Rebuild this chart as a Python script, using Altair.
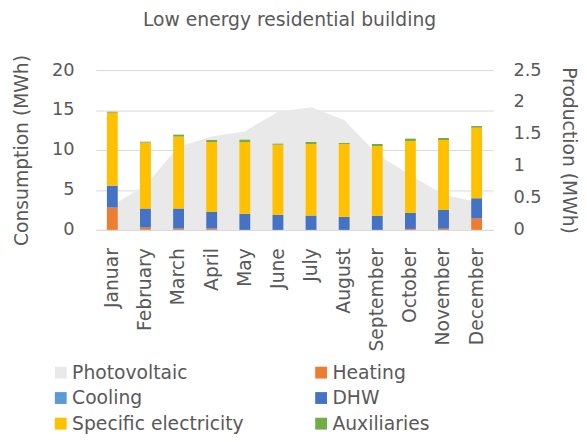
import altair as alt
import pandas as pd

months = ["Januar", "February", "March", "April", "May", "June", "July",
          "August", "September", "October", "November", "December"]
heating = [2.79, 0.29, 0.17, 0.17, 0.0, 0.0, 0.0, 0.0, 0.0, 0.12, 0.15, 1.42]
cooling = [0.0, 0.0, 0.0, 0.0, 0.0, 0.0, 0.0, 0.0, 0.0, 0.0, 0.0, 0.0]
dhw = [2.75, 2.38, 2.50, 2.08, 2.00, 1.88, 1.79, 1.63, 1.75, 2.01, 2.35, 2.54]
specific = [9.13, 8.25, 9.00, 8.75, 9.00, 8.79, 8.96, 9.12, 8.75, 9.00, 8.75, 8.83]
auxiliaries = [0.12, 0.12, 0.25, 0.25, 0.29, 0.12, 0.25, 0.12, 0.25, 0.29, 0.25, 0.21]
photovoltaic = [0.38, 0.70, 1.30, 1.46, 1.54, 1.85, 1.92, 1.72, 1.18, 0.86, 0.55, 0.44]

# legend fills column by column
legend_order = ["Photovoltaic", "Cooling", "Specific electricity", "Heating", "DHW", "Auxiliaries"]
legend_colors = ["#E9E9E9", "#5B9BD5", "#FFC000", "#ED7D31", "#4472C4", "#70AD47"]

stack = [("Heating", heating), ("Cooling", cooling), ("DHW", dhw),
         ("Specific electricity", specific), ("Auxiliaries", auxiliaries)]
rows = []
for k, (name, vals) in enumerate(stack):
    for m, v in zip(months, vals):
        rows.append({"month": m, "series": name, "value": v, "order": k})
bars_df = pd.DataFrame(rows)
pv_df = pd.DataFrame({"month": months, "pv": photovoltaic, "series": "Photovoltaic"})

TXT = "#595959"
FONT = "DejaVu Sans"

color = alt.Color("series:N",
                  scale=alt.Scale(domain=legend_order, range=legend_colors),
                  legend=alt.Legend(title=None, orient="none", legendX=-45, legendY=297,
                                    columns=2, columnPadding=68, rowPadding=6,
                                    symbolType="square", symbolSize=144, symbolStrokeWidth=0,
                                    labelOffset=2,
                                    labelFontSize=19, labelColor=TXT, labelFont=FONT,
                                    labelLimit=300))

xenc = alt.X("month:N", sort=months, title=None,
             axis=alt.Axis(labelAngle=-90, labelFontSize=19, labelColor=TXT, labelFont=FONT,
                           labelPadding=18, ticks=False, domainColor="#D9D9D9", grid=False))

area = alt.Chart(pv_df).mark_area(opacity=1).encode(
    x=alt.X("month:N", sort=months, title=None, bandPosition=0.5),
    y=alt.Y("pv:Q", scale=alt.Scale(domain=[0, 2.5]), title="Production (MWh)",
            axis=alt.Axis(orient="right", values=[0, 0.5, 1, 1.5, 2, 2.5], format="~g",
                          grid=False, ticks=False, domain=False,
                          labelFontSize=18, labelColor=TXT, labelFont=FONT, labelPadding=20,
                          titleFontSize=19, titleColor=TXT, titleFont=FONT,
                          titleFontWeight="normal", titlePadding=18)),
    color=color,
)

bars = alt.Chart(bars_df).mark_bar(size=11).encode(
    x=xenc,
    y=alt.Y("value:Q", stack="zero", scale=alt.Scale(domain=[0, 20]),
            title="Consumption (MWh)",
            axis=alt.Axis(values=[0, 5, 10, 15, 20], grid=True, gridColor="#D9D9D9",
                          ticks=False, domain=False,
                          labelFontSize=18, labelColor=TXT, labelFont=FONT, labelPadding=22,
                          titleFontSize=19, titleColor=TXT, titleFont=FONT,
                          titleFontWeight="normal", titlePadding=20)),
    color=color,
    order=alt.Order("order:Q"),
)

chart = alt.layer(area, bars).resolve_scale(y="independent").properties(
    width=403, height=162,
    autosize=alt.AutoSizeParams(type="none"),
    padding={"left": 89, "top": 60, "right": 87, "bottom": 204},
    title=alt.TitleParams("Low energy residential building", fontSize=19, color=TXT,
                          font=FONT, fontWeight="normal", anchor="middle", offset=25, dx=-5),
).configure_view(stroke=None)

chart.save("out.html", embed_options={"renderer": "svg", "actions": False})
